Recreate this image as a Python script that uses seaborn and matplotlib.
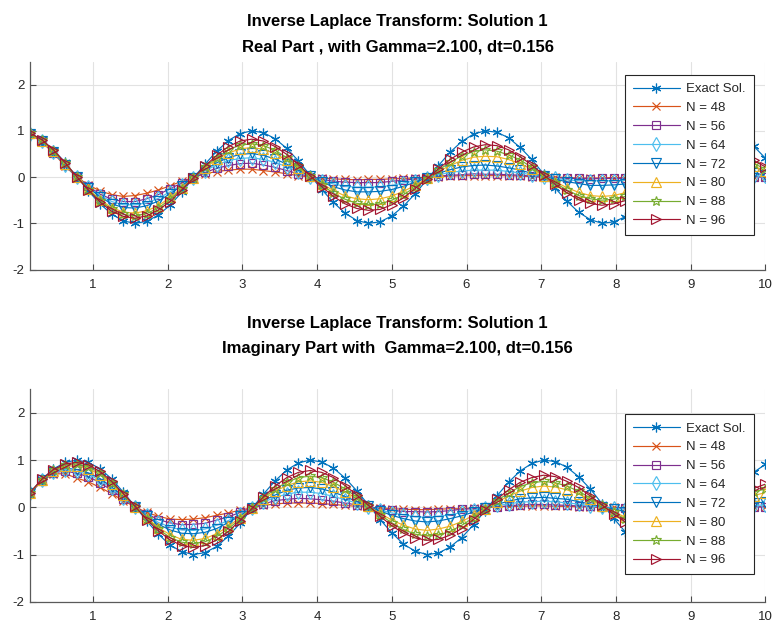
import matplotlib
matplotlib.use("Agg")
import matplotlib.pyplot as plt
import seaborn as sns

# sample times (dt = 0.156)
t = [0.15625, 0.3125, 0.46875, 0.625, 0.78125, 0.9375, 1.09375, 1.25, 1.40625, 1.5625,
     1.71875, 1.875, 2.03125, 2.1875, 2.34375, 2.5, 2.65625, 2.8125, 2.96875, 3.125,
     3.28125, 3.4375, 3.59375, 3.75, 3.90625, 4.0625, 4.21875, 4.375, 4.53125, 4.6875,
     4.84375, 5.0, 5.15625, 5.3125, 5.46875, 5.625, 5.78125, 5.9375, 6.09375, 6.25,
     6.40625, 6.5625, 6.71875, 6.875, 7.03125, 7.1875, 7.34375, 7.5, 7.65625, 7.8125,
     7.96875, 8.125, 8.28125, 8.4375, 8.59375, 8.75, 8.90625, 9.0625, 9.21875, 9.375,
     9.53125, 9.6875, 9.84375, 10.0]

# ---- real part ----
real_exact = [.95, .81, .59, .32, .01, -.30, -.58, -.80, -.95, -1.00,
              -.96, -.82, -.61, -.33, -.02, .28, .56, .79, .94, 1.00,
              .96, .83, .62, .35, .04, -.27, -.55, -.78, -.94, -1.00,
              -.97, -.84, -.63, -.36, -.06, .25, .54, .77, .93, 1.00,
              .97, .85, .64, .38, .07, -.24, -.52, -.76, -.92, -1.00,
              -.97, -.86, -.66, -.39, -.09, .22, .51, .75, .92, .99,
              .98, .87, .67, .41]
real_n48 = [.93, .76, .52, .24, .00, -.17, -.30, -.38, -.42, -.40,
            -.35, -.28, -.19, -.09, -.01, .07, .12, .15, .17, .17,
            .14, .11, .07, .03, .00, -.02, -.04, -.05, -.06, -.05,
            -.05, -.04, -.03, -.02, .00, .01, .02, .03, .03, .03,
            .03, .03, .02, .01, .00, .00, -.01, -.02, -.02, -.02,
            -.01, -.01, -.01, .00, .00, .00, .01, .01, .01, .01,
            .01, .01, .01, .00]
real_n56 = [.94, .78, .53, .26, .01, -.20, -.37, -.48, -.53, -.53,
            -.47, -.38, -.25, -.13, -.01, .10, .19, .25, .29, .30,
            .26, .21, .14, .07, .01, -.05, -.09, -.11, -.12, -.12,
            -.12, -.09, -.07, -.04, -.01, .02, .04, .05, .07, .06,
            .06, .05, .04, .02, .00, -.01, -.03, -.03, -.04, -.03,
            -.03, -.03, -.01, -.01, .00, .00, .01, .01, .01, .01,
            .01, .01, .01, .00]
real_n64 = [.94, .79, .54, .26, .01, -.22, -.40, -.53, -.60, -.60,
            -.56, -.46, -.32, -.17, -.01, .14, .26, .36, .40, .42,
            .38, .32, .22, .12, .01, -.08, -.15, -.20, -.22, -.22,
            -.21, -.18, -.13, -.08, -.01, .05, .10, .13, .15, .15,
            .15, .12, .09, .05, .01, -.03, -.06, -.08, -.08, -.08,
            -.08, -.07, -.05, -.03, -.01, .02, .03, .04, .05, .05,
            .05, .04, .03, .02]
real_n72 = [.94, .79, .55, .27, .01, -.23, -.43, -.58, -.66, -.67,
            -.62, -.52, -.36, -.19, -.01, .16, .31, .42, .49, .51,
            .47, .39, .28, .15, .02, -.11, -.21, -.28, -.32, -.32,
            -.31, -.27, -.20, -.11, -.02, .08, .16, .22, .25, .26,
            .24, .20, .15, .08, .02, -.05, -.10, -.14, -.18, -.18,
            -.17, -.15, -.11, -.06, -.01, .03, .07, .10, .12, .13,
            .13, .10, .08, .05]
real_n80 = [.95, .79, .57, .29, .01, -.26, -.49, -.66, -.76, -.78,
            -.73, -.62, -.44, -.24, -.02, .20, .38, .52, .61, .64,
            .60, .51, .36, .20, .02, -.15, -.29, -.41, -.47, -.49,
            -.47, -.41, -.31, -.18, -.03, .12, .25, .36, .43, .45,
            .44, .38, .29, .17, .03, -.10, -.23, -.33, -.40, -.42,
            -.40, -.34, -.26, -.15, -.03, .08, .19, .27, .33, .35,
            .34, .30, .23, .14]
real_n88 = [.95, .80, .57, .30, .01, -.27, -.51, -.70, -.81, -.84,
            -.79, -.67, -.48, -.26, -.02, .22, .42, .59, .69, .72,
            .68, .58, .42, .23, .03, -.17, -.35, -.48, -.57, -.60,
            -.58, -.50, -.38, -.22, -.04, .15, .32, .46, .55, .59,
            .56, .48, .37, .21, .04, -.13, -.28, -.40, -.47, -.50,
            -.48, -.42, -.32, -.19, -.04, .10, .23, .34, .41, .44,
            .43, .38, .29, .18]
real_n96 = [.95, .81, .59, .31, .01, -.28, -.54, -.74, -.85, -.89,
            -.84, -.71, -.53, -.28, -.02, .24, .47, .66, .78, .82,
            .78, .66, .49, .27, .03, -.21, -.42, -.58, -.68, -.72,
            -.70, -.60, -.45, -.25, -.04, .18, .38, .54, .65, .70,
            .68, .59, .44, .26, .05, -.16, -.34, -.49, -.57, -.61,
            -.58, -.51, -.39, -.23, -.05, .12, .29, .42, .51, .55,
            .54, .48, .36, .22]

# ---- imaginary part ----
imag_exact = [.31, .59, .81, .95, 1.00, .95, .82, .60, .32, .02,
              -.29, -.57, -.80, -.94, -1.00, -.96, -.83, -.61, -.34, -.03,
              .28, .56, .79, .94, 1.00, .96, .83, .62, .35, .05,
              -.26, -.54, -.78, -.93, -1.00, -.97, -.84, -.64, -.37, -.07,
              .24, .53, .77, .93, 1.00, .97, .85, .65, .39, .08,
              -.23, -.52, -.75, -.92, -1.00, -.98, -.86, -.66, -.40, -.10,
              .21, .50, .74, .91]
imag_n48 = [.30, .55, .71, .71, .62, .54, .42, .29, .14, .01,
            -.11, -.19, -.25, -.26, -.25, -.22, -.17, -.12, -.06, -.01,
            .04, .07, .09, .09, .09, .08, .06, .04, .02, .00,
            -.01, -.03, -.04, -.05, -.05, -.04, -.03, -.03, -.01, .00,
            .01, .02, .02, .03, .03, .02, .02, .01, .01, .00,
            .00, -.01, -.01, -.01, -.01, -.01, -.01, -.01, .00, .00,
            .00, .01, .01, .01]
imag_n56 = [.30, .56, .73, .77, .72, .65, .52, .36, .18, .01,
            -.14, -.26, -.33, -.37, -.36, -.34, -.27, -.20, -.11, -.01,
            .07, .14, .17, .19, .18, .16, .13, .09, .05, .01,
            -.03, -.06, -.09, -.09, -.10, -.09, -.07, -.04, -.03, .00,
            .01, .03, .05, .06, .06, .05, .04, .03, .02, .00,
            -.01, -.02, -.02, -.02, -.02, -.02, -.02, -.01, .00, .00,
            .00, .01, .01, .01]
imag_n64 = [.30, .57, .74, .80, .76, .70, .57, .40, .20, .01,
            -.17, -.32, -.42, -.48, -.49, -.46, -.38, -.28, -.15, -.01,
            .11, .21, .28, .32, .32, .29, .23, .16, .09, .01,
            -.06, -.12, -.16, -.20, -.21, -.19, -.16, -.11, -.06, -.01,
            .04, .07, .11, .12, .13, .12, .09, .07, .03, .01,
            -.02, -.04, -.05, -.06, -.07, -.07, -.05, -.04, -.02, .00,
            .01, .03, .04, .05]
imag_n72 = [.30, .57, .75, .83, .80, .73, .61, .43, .23, .01,
            -.19, -.36, -.48, -.55, -.56, -.53, -.45, -.32, -.18, -.02,
            .14, .26, .36, .41, .42, .39, .32, .23, .12, .02,
            -.08, -.17, -.24, -.29, -.31, -.29, -.24, -.18, -.10, -.02,
            .06, .13, .18, .20, .21, .19, .17, .12, .07, .01,
            -.04, -.09, -.12, -.15, -.15, -.15, -.12, -.09, -.05, -.01,
            .03, .06, .09, .11]
imag_n80 = [.31, .57, .77, .87, .88, .82, .69, .49, .26, .01,
            -.22, -.43, -.58, -.68, -.70, -.66, -.56, -.40, -.22, -.02,
            .17, .34, .46, .54, .56, .53, .44, .33, .18, .02,
            -.13, -.27, -.38, -.46, -.49, -.46, -.40, -.30, -.17, -.03,
            .11, .24, .34, .42, .45, .43, .37, .28, .17, .03,
            -.09, -.21, -.30, -.36, -.38, -.36, -.32, -.24, -.14, -.03,
            .07, .18, .25, .31]
imag_n88 = [.31, .58, .78, .90, .92, .86, .73, .52, .28, .01,
            -.24, -.46, -.64, -.74, -.77, -.73, -.62, -.45, -.25, -.02,
            .20, .39, .53, .63, .66, .63, .53, .39, .22, .03,
            -.16, -.33, -.47, -.57, -.61, -.59, -.51, -.38, -.22, -.04,
            .14, .30, .44, .52, .55, .52, .45, .34, .20, .04,
            -.11, -.25, -.36, -.44, -.47, -.45, -.40, -.30, -.18, -.04,
            .09, .22, .32, .39]
imag_n96 = [.31, .59, .80, .92, .95, .90, .76, .55, .29, .02,
            -.26, -.50, -.69, -.81, -.85, -.81, -.69, -.51, -.28, -.03,
            .22, .45, .63, .74, .78, .74, .63, .46, .26, .04,
            -.19, -.39, -.55, -.65, -.70, -.68, -.59, -.45, -.26, -.05,
            .17, .37, .53, .63, .68, .65, .55, .42, .24, .05,
            -.14, -.31, -.44, -.54, -.58, -.56, -.49, -.37, -.22, -.05,
            .12, .28, .40, .49]

labels = ["Exact Sol.", "N = 48", "N = 56", "N = 64", "N = 72", "N = 80", "N = 88", "N = 96"]
colors = ["#0072BD", "#D95319", "#7E2F8E", "#4DBEEE", "#0072BD", "#EDB120", "#77AC30", "#A2142F"]
markers = [(6, 2, 0), "x", "s", "d", "v", "^", "*", ">"]
msizes = [7, 6, 6, 7, 6.5, 6.5, 7.5, 6.5]

real_series = [real_exact, real_n48, real_n56, real_n64, real_n72, real_n80, real_n88, real_n96]
imag_series = [imag_exact, imag_n48, imag_n56, imag_n64, imag_n72, imag_n80, imag_n88, imag_n96]

sns.set_style("whitegrid")
plt.rcParams["font.family"] = ["Liberation Sans", "DejaVu Sans"]
plt.rcParams["axes.unicode_minus"] = False

W, H = 772, 623
fig = plt.figure(figsize=(W / 100, H / 100), dpi=100)

ax_left, ax_right = 30, 765.3
panels = [
    (61.5, 269.5, real_series, 0.935,
     ["Inverse Laplace Transform: Solution 1", "Real Part , with Gamma=2.100, dt=0.156"],
     (21.5, 46.5)),
    (389.3, 601.7, imag_series, 0.882,
     ["Inverse Laplace Transform: Solution 1", "Imaginary Part with  Gamma=2.100, dt=0.156"],
     (323.3, 348.3)),
]

for top, bottom, series, leg_top, title_lines, title_y in panels:
    ax = fig.add_axes([ax_left / W, 1 - bottom / H, (ax_right - ax_left) / W, (bottom - top) / H])
    for vals, lab, col, mk, ms in zip(series, labels, colors, markers, msizes):
        sns.lineplot(x=t, y=vals, ax=ax, color=col, marker=mk, markersize=ms,
                     markerfacecolor="none", markeredgecolor=col, markeredgewidth=0.85,
                     linewidth=0.85, label=lab, estimator=None, sort=False)
    ax.set_xlim(0.15625, 10)
    ax.set_ylim(-2, 2.5)
    ax.set_xticks(range(1, 11))
    ax.set_yticks([-2, -1, 0, 1, 2])
    ax.set_xlabel("")
    ax.set_ylabel("")
    ax.grid(True, color="#e2e2e2", linewidth=0.8)
    for side in ("top", "right"):
        ax.spines[side].set_visible(False)
    for side in ("left", "bottom"):
        ax.spines[side].set_color("#5a5a5a")
        ax.spines[side].set_linewidth(0.9)
    ax.tick_params(axis="both", direction="in", length=4, width=0.8, color="#4a4a4a",
                   labelsize=9.5, labelcolor="#262626", bottom=True, left=True)
    ax.tick_params(axis="x", pad=7)
    ax.tick_params(axis="y", pad=4)
    leg = ax.legend(loc="upper right", bbox_to_anchor=(0.984, leg_top), borderaxespad=0,
                    fontsize=9.5, labelspacing=0.5, handlelength=3.5, handletextpad=0.5,
                    borderpad=0.6, fancybox=False, framealpha=1, edgecolor="#262626")
    leg.get_frame().set_linewidth(0.8)
    cx = (ax_left + ax_right) / 2 / W
    for line, yy in zip(title_lines, title_y):
        fig.text(cx, 1 - yy / H, line, ha="center", va="center",
                 fontsize=12, fontweight="bold", color="black")

fig.savefig("out.png", dpi=100)
